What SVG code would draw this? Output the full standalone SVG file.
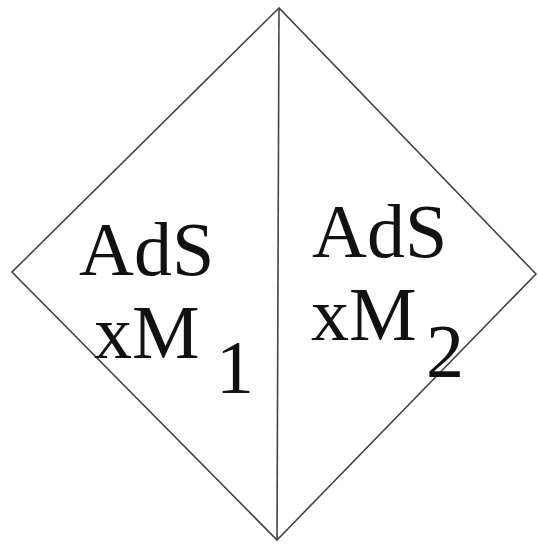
<svg xmlns="http://www.w3.org/2000/svg" width="538" height="545" viewBox="0 0 538 545">
<style>
.e{fill:none;stroke:#444;stroke-width:1.6}
.t{font-family:"Liberation Serif",serif;font-size:76px;fill:#111}
</style>
<rect width="538" height="545" fill="#fff"/>
<g id="connectors">
<polygon class="e" points="279,8 12,272 277,540 536,274"/>
<line class="e" x1="279" y1="8" x2="277" y2="540"/>
</g>
<g id="left">
<text class="t" x="79" y="275">AdS</text>
<text class="t" x="94" y="358">xM</text>
<text class="t" x="216" y="393">1</text>
</g>
<g id="right">
<text class="t" x="312" y="257">AdS</text>
<text class="t" x="311" y="340">xM</text>
<text class="t" x="426" y="377">2</text>
</g>
</svg>
